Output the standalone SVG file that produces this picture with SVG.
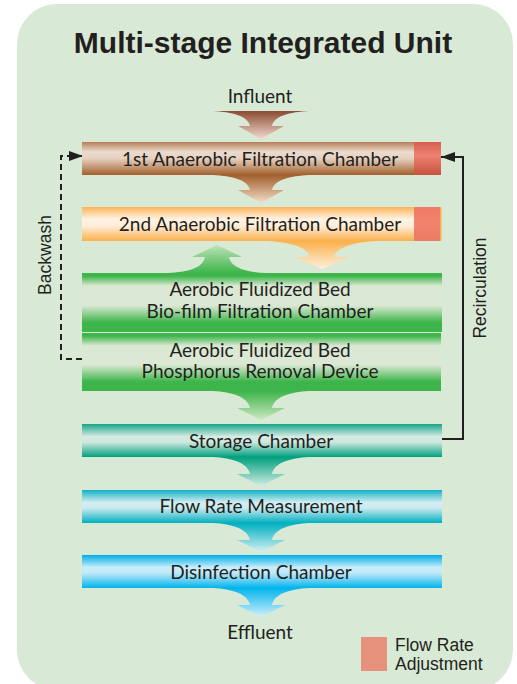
<svg xmlns="http://www.w3.org/2000/svg" width="517" height="684" viewBox="0 0 517 684">
<style>
.lbl{font-family:Lato,"Noto Sans",sans-serif;font-size:19px;fill:#231f20;text-anchor:middle}
.side{font-family:"Liberation Sans",Arial,sans-serif;font-size:17.5px;fill:#231f20;text-anchor:middle}
.title{font-family:"Liberation Sans",Arial,sans-serif;font-size:30px;font-weight:bold;fill:#231f20;text-anchor:middle}
.leg{font-family:"Liberation Sans",Arial,sans-serif;font-size:17.5px;fill:#231f20}
.line{fill:none;stroke:#231f20;stroke-width:2}
</style>
<defs>
<linearGradient id="gBrown" x1="0" y1="0" x2="0" y2="1">
<stop offset="0" stop-color="#b57e58"/><stop offset="0.3" stop-color="#ebdbce"/><stop offset="0.5" stop-color="#e6d1c1"/><stop offset="1" stop-color="#a2602c"/>
</linearGradient>
<linearGradient id="gRed1" x1="0" y1="0" x2="0" y2="1">
<stop offset="0" stop-color="#d45e4c"/><stop offset="0.4" stop-color="#ee8272"/><stop offset="1" stop-color="#c9513f"/>
</linearGradient>
<linearGradient id="gOrange" x1="0" y1="0" x2="0" y2="1">
<stop offset="0" stop-color="#fbb35a"/><stop offset="0.35" stop-color="#fff2e2"/><stop offset="0.55" stop-color="#ffeedb"/><stop offset="1" stop-color="#fbb04c"/>
</linearGradient>
<linearGradient id="gRed2" x1="0" y1="0" x2="0" y2="1">
<stop offset="0" stop-color="#ef7b66"/><stop offset="0.5" stop-color="#f1846d"/><stop offset="1" stop-color="#ec7a62"/>
</linearGradient>
<linearGradient id="gGreen" x1="0" y1="0" x2="0" y2="1">
<stop offset="0" stop-color="#3db54a"/><stop offset="0.05" stop-color="#3db54a"/><stop offset="0.22" stop-color="#dbe8d4"/><stop offset="0.55" stop-color="#dbe8d4"/><stop offset="0.84" stop-color="#3db54a"/><stop offset="1" stop-color="#3db54a"/>
</linearGradient>
<linearGradient id="gTeal" x1="0" y1="0" x2="0" y2="1">
<stop offset="0" stop-color="#17a58a"/><stop offset="0.38" stop-color="#d5ebe3"/><stop offset="0.55" stop-color="#cfe8df"/><stop offset="1" stop-color="#00a07e"/>
</linearGradient>
<linearGradient id="gCyan" x1="0" y1="0" x2="0" y2="1">
<stop offset="0" stop-color="#12b1c3"/><stop offset="0.38" stop-color="#d3eef2"/><stop offset="0.55" stop-color="#c9eaef"/><stop offset="1" stop-color="#00afc0"/>
</linearGradient>
<linearGradient id="gBlue" x1="0" y1="0" x2="0" y2="1">
<stop offset="0" stop-color="#00aee8"/><stop offset="0.38" stop-color="#caeefb"/><stop offset="0.55" stop-color="#bfe8f8"/><stop offset="1" stop-color="#00b4ec"/>
</linearGradient>
<linearGradient id="aInf" x1="0" y1="0" x2="0" y2="1">
<stop offset="0" stop-color="#8a4b30"/><stop offset="1" stop-color="#f2dad0"/>
</linearGradient>
<linearGradient id="aBrown" x1="0" y1="0" x2="0" y2="1">
<stop offset="0" stop-color="#a2602c"/><stop offset="1" stop-color="#f2ddc8"/>
</linearGradient>
<linearGradient id="aOrange" x1="0" y1="0" x2="0" y2="1">
<stop offset="0" stop-color="#fbb04c"/><stop offset="1" stop-color="#fff0da"/>
</linearGradient>
<linearGradient id="aGreenUp" x1="0" y1="1" x2="0" y2="0">
<stop offset="0" stop-color="#3db54a"/><stop offset="1" stop-color="#bfe2b8"/>
</linearGradient>
<linearGradient id="aGreen" x1="0" y1="0" x2="0" y2="1">
<stop offset="0" stop-color="#3db54a"/><stop offset="1" stop-color="#cce8c2"/>
</linearGradient>
<linearGradient id="aTeal" x1="0" y1="0" x2="0" y2="1">
<stop offset="0" stop-color="#00a07e"/><stop offset="1" stop-color="#d0ece4"/>
</linearGradient>
<linearGradient id="aCyan" x1="0" y1="0" x2="0" y2="1">
<stop offset="0" stop-color="#00afc0"/><stop offset="1" stop-color="#d2f0f4"/>
</linearGradient>
<linearGradient id="aBlue" x1="0" y1="0" x2="0" y2="1">
<stop offset="0" stop-color="#00b4ec"/><stop offset="1" stop-color="#d2f0fc"/>
</linearGradient>
<marker id="ah" viewBox="0 0 14 10" refX="14" refY="5" markerWidth="14" markerHeight="10" markerUnits="userSpaceOnUse" orient="auto">
<path d="M0,0 L14,5 L0,10 z" fill="#231f20"/>
</marker>
</defs>

<rect x="0" y="0" width="517" height="684" fill="#ffffff"/>
<rect id="panel" x="17" y="4" width="496" height="686" rx="40" ry="40" fill="#d8ead5"/>

<text class="title" x="263" y="53">Multi-stage Integrated Unit</text>

<g id="connectors">
<path id="a-influent" fill="url(#aInf)" d="M213,111 L309,111 C290,112 274,116 272,126 L284,126 L261,139 L238,126 L250,126 C248,116 232,112 213,111 Z"/>
<path id="a-1-2" fill="url(#aBrown)" d="M213,175 L309,175 C290,176 274,180 272,190 L284,190 L261,203 L238,190 L250,190 C248,180 232,176 213,175 Z"/>
<path id="a-2-3" fill="url(#aOrange)" d="M268,241 L376,241 C356,242 336,247 334,257 L349,257 L322,269 L295,257 L310,257 C308,247 288,242 268,241 Z"/>
<path id="a-3-2" fill="url(#aGreenUp)" d="M168,273 L266,273 C246,272 231,268 229,257 L242,257 L217,245 L192,257 L205,257 C203,268 188,272 168,273 Z"/>
<path id="a-4-5" fill="url(#aGreen)" d="M213,391 L309,391 C290,392 274,397 272,408 L285,408 L261,420 L237,408 L250,408 C248,397 232,392 213,391 Z"/>
<path id="a-5-6" fill="url(#aTeal)" d="M213,457 L309,457 C290,458 274,463 272,474 L285,474 L261,486 L237,474 L250,474 C248,463 232,458 213,457 Z"/>
<path id="a-6-7" fill="url(#aCyan)" d="M213,523 L309,523 C290,524 274,529 272,540 L285,540 L261,552 L237,540 L250,540 C248,529 232,524 213,523 Z"/>
<path id="a-7-out" fill="url(#aBlue)" d="M213,588 L309,588 C290,589 274,594 272,605 L285,605 L261,617 L237,605 L250,605 C248,594 232,589 213,588 Z"/>
<path id="backwash" class="line" stroke-dasharray="6,4" d="M82,359 H61 V156 H83" marker-end="url(#ah)"/>
<text class="side" transform="translate(51,255) rotate(-90)">Backwash</text>
<path id="recirculation" class="line" d="M441,439 H463 V157 H441" marker-end="url(#ah)"/>
<text class="side" transform="translate(486,288) rotate(-90)">Recirculation</text>
</g>

<g id="influent"><text class="lbl" x="260" y="103">Influent</text></g>

<g id="anaerobic1">
<rect x="82" y="142" width="332" height="33" fill="url(#gBrown)"/>
<rect x="414" y="142" width="27" height="33" fill="url(#gRed1)"/>
<text class="lbl" x="260" y="166">1st Anaerobic Filtration Chamber</text>
</g>

<g id="anaerobic2">
<rect x="82" y="207" width="332" height="34" fill="url(#gOrange)"/>
<rect x="414" y="207" width="27" height="34" fill="url(#gRed2)"/>
<rect x="440" y="207" width="1.5" height="34" fill="#fbb04c"/>
<text class="lbl" x="260" y="231">2nd Anaerobic Filtration Chamber</text>
</g>

<g id="aerobic-biofilm">
<rect x="82" y="273" width="360" height="59" fill="url(#gGreen)"/>
<text class="lbl" x="260" y="296">Aerobic Fluidized Bed</text>
<text class="lbl" x="260" y="318">Bio-film Filtration Chamber</text>
</g>

<g id="aerobic-phosphorus">
<rect x="82" y="333" width="359" height="58" fill="url(#gGreen)"/>
<text class="lbl" x="260" y="357">Aerobic Fluidized Bed</text>
<text class="lbl" x="260" y="378">Phosphorus Removal Device</text>
</g>

<g id="storage">
<rect x="82" y="424" width="360" height="33" fill="url(#gTeal)"/>
<text class="lbl" x="261" y="448">Storage Chamber</text>
</g>

<g id="flowrate">
<rect x="82" y="490" width="360" height="33" fill="url(#gCyan)"/>
<text class="lbl" x="261" y="513">Flow Rate Measurement</text>
</g>

<g id="disinfection">
<rect x="82" y="555" width="360" height="33" fill="url(#gBlue)"/>
<text class="lbl" x="261" y="579">Disinfection Chamber</text>
</g>

<g id="effluent"><text class="lbl" x="260" y="639">Effluent</text></g>

<g id="legend">
<rect x="361" y="637" width="26" height="34" fill="#e5917b"/>
<text class="leg" x="395" y="651">Flow Rate</text>
<text class="leg" x="395" y="670">Adjustment</text>
</g>
</svg>
